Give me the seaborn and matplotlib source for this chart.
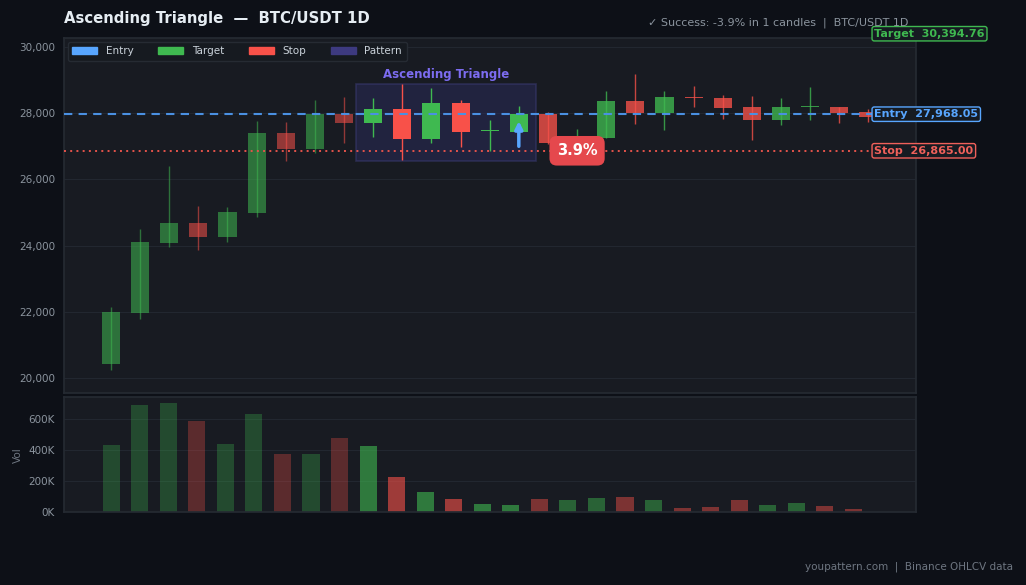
import numpy as np
import pandas as pd
import matplotlib
matplotlib.use("Agg")
import matplotlib.pyplot as plt
import matplotlib.patches as mpatches
from matplotlib.ticker import FuncFormatter
import seaborn as sns

# OHLCV DATA
opens  = [20440, 21980, 24090, 24690, 24270, 25000, 27400, 26910, 27960, 27710,
          28120, 27230, 28300, 27450, 27440, 27970, 27180, 27260, 28360, 28010,
          28470, 28450, 28180, 27800, 28170, 28180, 28040]
highs  = [22150, 24500, 26400, 25200, 25170, 27760, 27730, 28400, 28490, 28460,
          28880, 28760, 28400, 27790, 28210, 28030, 27520, 28670, 29180, 28670,
          28820, 28550, 28520, 28460, 28790, 28190, 28130]
lows   = [20260, 21800, 23970, 23880, 24120, 24880, 26560, 26810, 27110, 27290,
          26590, 27110, 26990, 26860, 27400, 27060, 27000, 27250, 27680, 27500,
          28190, 27830, 27200, 27650, 27800, 27710, 27740]
closes = [21990, 24110, 24690, 24270, 25020, 27400, 26910, 27970, 27710, 28120,
          27230, 28300, 27440, 27470, 27970, 27110, 27230, 28360, 28010, 28490,
          28450, 28160, 27800, 28180, 28180, 28010, 27890]
volumes = [431, 688, 701, 585, 438, 630, 374, 374, 476, 426,
           226, 130, 85, 53, 47, 85, 79, 92, 98, 79,
           28, 34, 79, 47, 60, 40, 21]  # thousands

entry_price = 27968.05
stop_price = 26865.00
target_price = 30394.76
pattern_start, pattern_end = 9, 14
breakout_idx = 14
badge_idx = 16
move_pct = "3.9%"

df = pd.DataFrame({"open": opens, "high": highs, "low": lows,
                   "close": closes, "volume": np.array(volumes) * 1000})
df["idx"] = np.arange(len(df))
df["up"] = df["close"] >= df["open"]

# COLOURS
FIG_BG = "#0d1017"
AX_BG = "#181b22"
GREEN = "#3fb950"
RED = "#f85149"
BLUE = "#58a6ff"
PURPLE = "#7c6cf0"
GRAY = "#8b949e"

sns.set_theme(style="dark", rc={
    "figure.facecolor": FIG_BG,
    "axes.facecolor": AX_BG,
    "axes.edgecolor": "#252a32",
    "axes.labelcolor": GRAY,
    "xtick.color": GRAY,
    "ytick.color": GRAY,
    "text.color": GRAY,
    "grid.color": "#222730",
})
plt.rcParams["font.family"] = ["DejaVu Sans"]

fig = plt.figure(figsize=(10.26, 5.85), dpi=100)
ax = fig.add_axes([0.0624, 0.328, 0.8306, 0.607])
axv = fig.add_axes([0.0624, 0.1245, 0.8306, 0.1965])


def phase_alpha(i, a_pre, a_pat, a_post):
    if i < pattern_start:
        return a_pre
    if i <= pattern_end:
        return a_pat
    return a_post


# CANDLES
for _, r in df.iterrows():
    i = int(r["idx"])
    col = GREEN if r["up"] else RED
    a = phase_alpha(i, 0.55, 1.0, 0.78)
    ax.vlines(i, r["low"], r["high"], color=col, alpha=a, lw=1.0, zorder=3)
    bottom = min(r["open"], r["close"])
    height = max(abs(r["close"] - r["open"]), 40)
    ax.bar(i, height, bottom=bottom, width=0.62, color=col, alpha=a,
           linewidth=0, zorder=4)

# PATTERN BOX
p_hi = df.loc[pattern_start:pattern_end, "high"].max()
p_lo = df.loc[pattern_start:pattern_end, "low"].min()
rect = mpatches.Rectangle((pattern_start - 0.6, p_lo - 30), pattern_end - pattern_start + 1.2,
                          p_hi - p_lo + 30, facecolor="#2a2b58", alpha=0.55,
                          edgecolor="#3a3b72", lw=1.2, zorder=2)
ax.add_patch(rect)
ax.annotate("Ascending Triangle", xy=((pattern_start + pattern_end) / 2, p_hi),
            xytext=(0, 2), textcoords="offset points", ha="center", va="bottom",
            color=PURPLE, fontsize=8.5, fontweight="bold", zorder=6)

# LEVELS
ax.axhline(entry_price, color="#4a90e2", ls=(0, (4, 3)), lw=1.5, zorder=5)
ax.axhline(stop_price, color="#e5534b", ls=(0, (1, 2.2)), lw=1.4, zorder=5)
ax.axhline(target_price, color=GREEN, ls="--", lw=1.2, zorder=5)

for label, price, col in [("Target", target_price, GREEN),
                          ("Entry", entry_price, BLUE),
                          ("Stop", stop_price, "#f0605a")]:
    ax.annotate(f"{label}  {price:,.2f}", xy=(26.2, price), xycoords="data",
                ha="left", va="center", fontsize=8, fontweight="bold", color=col,
                annotation_clip=False, zorder=8,
                bbox=dict(boxstyle="round,pad=0.2", fc="#161b22", ec=col, lw=1))

# BREAKOUT ARROW
ax.annotate("", xy=(breakout_idx, 27760), xytext=(breakout_idx, 27000),
            arrowprops=dict(arrowstyle="-|>", color=BLUE, lw=2.5, mutation_scale=11,
                            shrinkA=0, shrinkB=0),
            zorder=7)

# MOVE BADGE
ax.text(badge_idx, stop_price, move_pct, ha="center", va="center", fontsize=10.5,
        fontweight="bold", color="white", zorder=9,
        bbox=dict(boxstyle="round,pad=0.5", fc="#e5484d", ec="none"))

ax.set_xlim(-1.61, 27.64)
ax.set_ylim(19557, 30265)
ax.set_yticks(range(20000, 30001, 2000))
ax.yaxis.set_major_formatter(FuncFormatter(lambda v, p: f"{v:,.0f}"))
ax.set_xticks(range(0, 27, 3))
ax.set_xticklabels([])
ax.grid(axis="y", color="#222730", lw=0.8)
ax.tick_params(axis="both", length=3, width=0.8, labelsize=7.5, colors=GRAY)

# LEGEND
handles = [mpatches.Patch(color=BLUE, label="Entry"),
           mpatches.Patch(color=GREEN, label="Target"),
           mpatches.Patch(color=RED, label="Stop"),
           mpatches.Patch(color="#3d3a80", label="Pattern")]
leg = ax.legend(handles=handles, loc="upper left", ncol=4, fontsize=7.5,
                frameon=True, facecolor="#161a20", edgecolor="#262b33",
                handlelength=2.4, handleheight=0.65, columnspacing=2.4,
                borderaxespad=0.35, borderpad=0.45, labelcolor="#c9d1d9")
leg.get_frame().set_alpha(1)

# VOLUME
sns.barplot(data=df, x="idx", y="volume", hue="idx", palette=["#ffffff"] * len(df),
            legend=False, width=0.6, saturation=1, ax=axv)
for i, patch in enumerate(axv.patches[:len(df)]):
    col = GREEN if df["up"][i] else RED
    patch.set_facecolor(col)
    patch.set_alpha(phase_alpha(i, 0.3, 0.6, 0.45))
    patch.set_linewidth(0)

axv.set_xlim(-1.65, 28.2)
axv.set_ylim(0, 737000)
axv.set_yticks([0, 200000, 400000, 600000])
axv.yaxis.set_major_formatter(FuncFormatter(lambda v, p: f"{v / 1000:.0f}K"))
axv.set_xticks(range(0, 27, 3))
axv.set_xticklabels([])
axv.set_xlabel("")
axv.set_ylabel("Vol", fontsize=7.5, color="#6e7681")
axv.grid(axis="y", color="#222730", lw=0.8)
axv.tick_params(axis="both", length=3, width=0.8, labelsize=7.5, colors=GRAY)

# TITLES
fig.text(0.0624, 0.969, "Ascending Triangle  —  BTC/USDT 1D", ha="left", va="center",
         fontsize=10.7, fontweight="bold", color="#e6edf3")
fig.text(0.885, 0.9605, "✓ Success: -3.9% in 1 candles  |  BTC/USDT 1D", ha="right",
         va="center", fontsize=8, color=GRAY)
fig.text(0.987, 0.031, "youpattern.com  |  Binance OHLCV data", ha="right",
         va="center", fontsize=7.5, color="#6e7681")

fig.savefig("out.png", dpi=100, facecolor=FIG_BG)
